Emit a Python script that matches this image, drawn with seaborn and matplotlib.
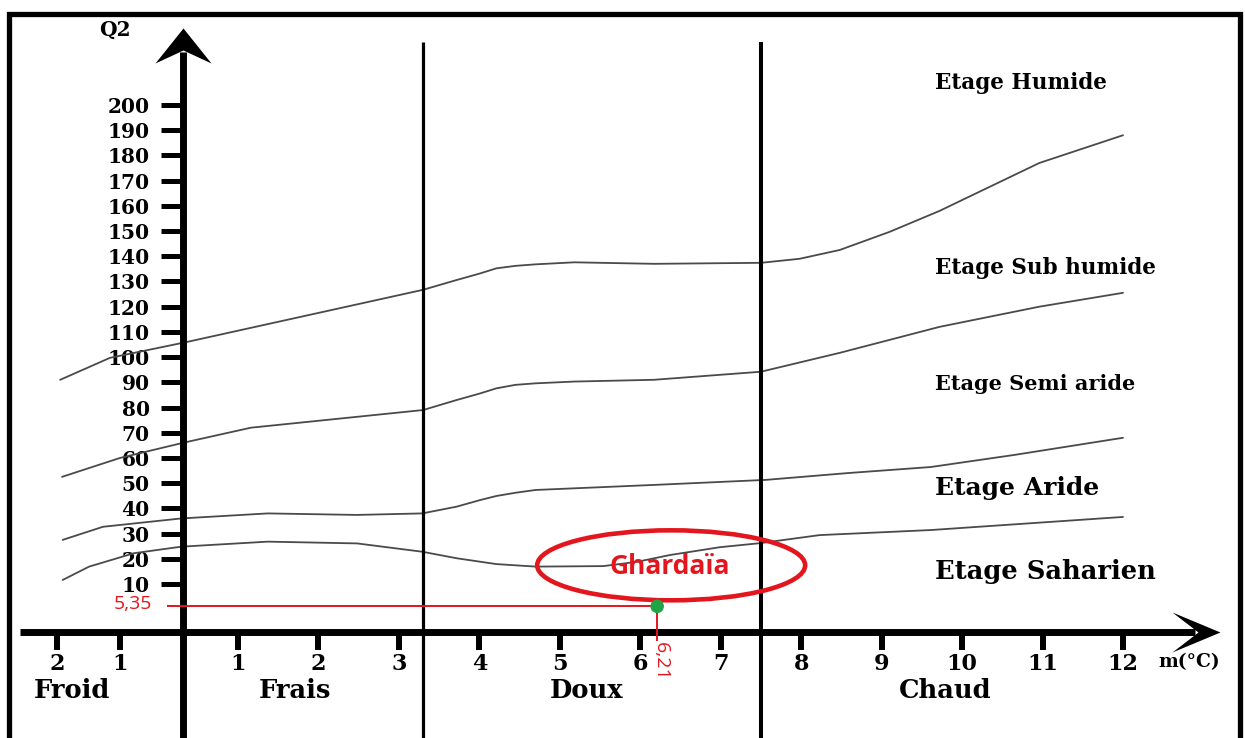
"""
Climagramme d'Emberger : position de la station de Ghardaïa
(m = moyenne des minima du mois le plus froid, Q2 = quotient pluviothermique)
"""

import numpy as np
import pandas as pd
import matplotlib
matplotlib.use("Agg")
import matplotlib.pyplot as plt
import matplotlib.transforms as mtransforms
from matplotlib.patches import Ellipse, Rectangle
from matplotlib.path import Path
import seaborn as sns

HUMIDE_M = [-1.95, -1.16, 0.07, 3.30, 3.72, 4.01, 4.21, 4.45, 4.70, 5.18, 6.17,
            7.50, 7.98, 8.48, 9.10, 9.72, 10.34, 10.96, 12.0]
HUMIDE_Q2 = [91, 99.7, 106, 126.7, 130.6, 133.2, 135.2, 136.2, 136.8, 137.6, 137,
             137.4, 139, 142.5, 149.7, 158, 167.5, 177, 188]

SUBHUMIDE_M = [-1.92, -1.0, 0.0, 1.16, 3.30, 3.72, 4.01, 4.21, 4.45, 4.70, 5.18,
               6.17, 7.50, 8.48, 9.72, 10.96, 12.0]
SUBHUMIDE_Q2 = [52.5, 60, 66, 72, 79, 83, 85.6, 87.6, 89, 89.6, 90.3, 91, 94.2,
                101.7, 112, 120, 125.5]

SEMIARIDE_M = [-1.91, -1.27, -0.03, 1.37, 2.48, 3.29, 3.72, 4.01, 4.21, 4.45,
               4.70, 6.17, 7.56, 8.58, 9.61, 10.65, 12.0]
SEMIARIDE_Q2 = [27.5, 32.7, 36, 38, 37.4, 38, 40.7, 43.3, 44.9, 46.2, 47.3, 49.3,
                51.3, 54, 56.4, 61.2, 68]

ARIDE_M = [-1.91, -1.49, -0.78, -0.03, 1.37, 2.48, 3.29, 3.72, 4.21, 4.70, 5.54,
           5.96, 6.37, 6.99, 7.49, 8.23, 9.61, 12.0]
ARIDE_Q2 = [11.6, 16.9, 22.2, 24.8, 26.8, 26.1, 22.8, 20.2, 17.9, 16.9, 17.1, 18.8,
            21.5, 24.6, 26.2, 29.4, 31.4, 36.6]

CURVE_NAMES = ["Humide/Sub humide", "Sub humide/Semi aride",
               "Semi aride/Aride", "Aride/Saharien"]

# ─── Station ───
GHARDAIA_M = 6.21
GHARDAIA_Q2 = 5.35

# ─── Variantes thermiques ───
THERMAL_BOUNDS_M = [3.3, 7.5]
THERMAL_NAMES = ["Froid", "Frais", "Doux", "Chaud"]
THERMAL_LABEL_M = [-1.76, 1.71, 5.33, 9.79]

ETAGE_NAMES = ["Etage Humide", "Etage Sub humide", "Etage Semi aride",
               "Etage Aride", "Etage Saharien"]
ETAGE_LABEL_Q2 = [208.7, 135.3, 89.3, 48.1, 14.8]
ETAGE_FONTSIZE = [15.5, 15.5, 15, 18, 18.5]

X_TICKS = [-2, -1, 1, 2, 3, 4, 5, 6, 7, 8, 9, 10, 11, 12]
X_TICK_LABELS = ["2", "1", "1", "2", "3", "4", "5", "6", "7", "8", "9", "10",
                 "11", "12"]
Y_TICKS = [10, 20, 30, 40, 50, 60, 70, 80, 90, 100, 110, 120, 130, 140, 150,
           160, 170, 180, 190, 200]

# ─── Layout (the printed diagram is not drawn to a uniform scale) ───
W, H = 1245, 738
X_KNOT_M = [-2, -1, 0, 1, 12]
X_KNOT_PX = [57, 120, 183, 238, 1123]
Y_KNOT_Q2 = [0, 10, 200]
Y_KNOT_PX = [106, 154, 633]          # measured from the bottom edge

RED = "#e3161e"
GREEN = "#20a447"
CURVE_COLOR = "#4a4a4a"
SERIF = "DejaVu Serif"
SANS = "Open Sans"


def piecewise(xp, fp):
    """Piecewise-linear map with linear extrapolation at both ends."""
    xp = np.asarray(xp, float)
    fp = np.asarray(fp, float)
    s0 = (fp[1] - fp[0]) / (xp[1] - xp[0])
    s1 = (fp[-1] - fp[-2]) / (xp[-1] - xp[-2])

    def f(v):
        v = np.asarray(v, float)
        flat = v.ravel()
        out = np.interp(flat, xp, fp)
        lo = flat < xp[0]
        hi = flat > xp[-1]
        out[lo] = fp[0] + (flat[lo] - xp[0]) * s0
        out[hi] = fp[-1] + (flat[hi] - xp[-1]) * s1
        return out.reshape(v.shape)
    return f


fwd_x, inv_x = piecewise(X_KNOT_M, X_KNOT_PX), piecewise(X_KNOT_PX, X_KNOT_M)
fwd_y, inv_y = piecewise(Y_KNOT_Q2, Y_KNOT_PX), piecewise(Y_KNOT_PX, Y_KNOT_Q2)


def px_m(px):
    return float(inv_x(px))


def px_q2(py_from_top):
    return float(inv_y(H - py_from_top))


sns.set_theme(style="white")
plt.rcParams["font.family"] = ["DejaVu Serif", "DejaVu Sans"]
plt.rcParams["text.color"] = "black"
plt.rcParams["xtick.color"] = "black"
plt.rcParams["ytick.color"] = "black"
plt.rcParams["xtick.labelcolor"] = "black"
plt.rcParams["ytick.labelcolor"] = "black"

fig = plt.figure(figsize=(W / 100, H / 100), dpi=100)
ax = fig.add_axes([0, 0, 1, 1])
ax.set_facecolor("white")

# ─── Courbes limites ───
frames = []
for name, m, q in zip(CURVE_NAMES,
                      [HUMIDE_M, SUBHUMIDE_M, SEMIARIDE_M, ARIDE_M],
                      [HUMIDE_Q2, SUBHUMIDE_Q2, SEMIARIDE_Q2, ARIDE_Q2]):
    frames.append(pd.DataFrame({"m": m, "Q2": q, "limite": name}))
curves = pd.concat(frames, ignore_index=True)

sns.lineplot(data=curves, x="m", y="Q2", units="limite", estimator=None,
             sort=False, color=CURVE_COLOR, lw=1.3, legend=False, ax=ax)

# ─── Scales & limits ───
ax.set_xscale("function", functions=(fwd_x, inv_x))
ax.set_yscale("function", functions=(fwd_y, inv_y))
ax.set_xlim(px_m(0), px_m(W))
ax.set_ylim(px_q2(H), px_q2(0))
ax.set_xlabel("")
ax.set_ylabel("")

for side in ["top", "right", "left", "bottom"]:
    ax.spines[side].set_visible(False)
ax.spines["left"].set_position(("data", 0))
ax.spines["bottom"].set_position(("data", 0))

ax.set_xticks(X_TICKS, labels=X_TICK_LABELS, fontsize=16, fontweight="bold",
              family=SERIF, color="black")
ax.set_yticks(Y_TICKS, labels=[str(v) for v in Y_TICKS], fontsize=14.5,
              fontweight="bold", family=SERIF, color="black")
ax.minorticks_off()
ax.tick_params(axis="x", which="major", direction="out", length=13, width=4.3,
               pad=2, color="black", bottom=True, top=False)
ax.tick_params(axis="y", which="major", direction="out", length=16, width=3.6,
               pad=8, color="black", left=True, right=False)
ax.grid(False)

# ─── Axes with arrows ───
y_bottom = px_q2(H + 5)
y_apex = px_q2(28)
x_left = px_m(20)
x_apex = px_m(1220)

ax.plot([0, 0], [y_bottom, px_q2(52)], color="black", lw=5,
        solid_capstyle="butt", clip_on=False, zorder=4)
ax.plot([x_left, px_m(1195)], [0, 0], color="black", lw=5,
        solid_capstyle="butt", clip_on=False, zorder=4)

codes = [Path.MOVETO, Path.LINETO, Path.LINETO, Path.LINETO, Path.CLOSEPOLY]
head_up = Path([(0, 0), (28, -35), (0, -22), (-28, -35), (0, 0)], codes)
head_right = Path([(0, 0), (-48, 20), (-22, 0), (-48, -20), (0, 0)], codes)
ax.plot([0], [y_apex], marker=head_up, markersize=2 * 35 * 0.72,
        color="black", mew=0, clip_on=False, zorder=5)
ax.plot([x_apex], [0], marker=head_right, markersize=2 * 48 * 0.72,
        color="black", mew=0, clip_on=False, zorder=5)

# ─── Limites des variantes thermiques ───
ax.vlines(THERMAL_BOUNDS_M, y_bottom, px_q2(42), colors="black",
          lw=[2.3, 2.9], zorder=3)

# ─── Textes ───
for name, m in zip(THERMAL_NAMES, THERMAL_LABEL_M):
    ax.text(m, px_q2(690), name, ha="center", va="center", fontsize=18.5,
            fontweight="bold", family=SERIF, color="black")

for name, q, fs in zip(ETAGE_NAMES, ETAGE_LABEL_Q2, ETAGE_FONTSIZE):
    ax.text(px_m(935), q, name, ha="left", va="center", fontsize=fs,
            fontweight="bold", family=SERIF, color="black")

ax.text(115 / W, 1 - 30 / H, "Q2", transform=ax.transAxes, ha="center",
        va="center", fontsize=14.5, fontweight="bold", family=SERIF,
        color="black")
ax.text(1158 / W, 1 - 662 / H, "m(°C)", transform=ax.transAxes, ha="left",
        va="center", fontsize=13.5, fontweight="bold", family=SERIF,
        color="black")

# ─── Ghardaïa ───
read_start = px_m(167)
read_end = px_q2(641)
ax.hlines(GHARDAIA_Q2, read_start, GHARDAIA_M, colors=RED, lw=1.4, zorder=6)
ax.vlines(GHARDAIA_M, read_end, GHARDAIA_Q2, colors=RED, lw=1.4, zorder=6)
sns.scatterplot(x=[GHARDAIA_M], y=[GHARDAIA_Q2], s=95, color=GREEN,
                edgecolor="none", zorder=7, ax=ax, legend=False)

ax.annotate("5,35", xy=(read_start, GHARDAIA_Q2), xytext=(-15, 2),
            textcoords="offset pixels", ha="right", va="center", color=RED,
            fontsize=14, family=SANS)
ax.annotate("6,21", xy=(GHARDAIA_M, read_end), xytext=(4, -1),
            textcoords="offset pixels", ha="center", va="top", rotation=270,
            color=RED, fontsize=14, family=SANS)

ell_trans = (mtransforms.Affine2D().translate(14, 41)
             + mtransforms.ScaledTranslation(GHARDAIA_M, GHARDAIA_Q2, ax.transData))
ax.add_patch(Ellipse((0, 0), 268, 70, transform=ell_trans, fill=False,
                     ec=RED, lw=3.3, zorder=6))
ax.annotate("Ghardaïa", xy=(GHARDAIA_M, GHARDAIA_Q2), xytext=(13, 40),
            textcoords="offset pixels", ha="center", va="center", color=RED,
            fontsize=19, fontweight="bold", family=SANS, zorder=7)

ax.set_xlim(px_m(0), px_m(W))
ax.set_ylim(px_q2(H), px_q2(0))

# ─── Cadre ───
fig.add_artist(Rectangle((9 / W, -0.05), (1240 - 9) / W, 1 - 14 / H + 0.05,
                         transform=fig.transFigure, fill=False, lw=3.8,
                         ec="black"))

fig.savefig("out.png", dpi=100)
plt.close(fig)
